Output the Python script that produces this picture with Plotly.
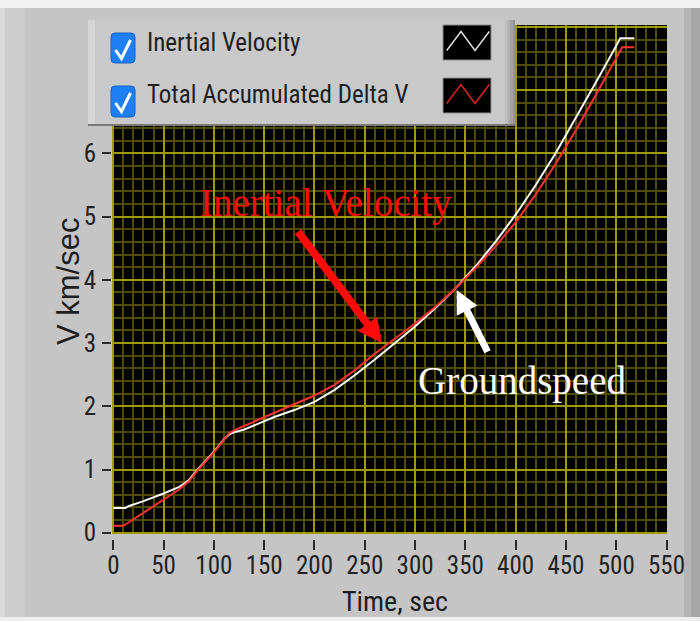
import plotly.graph_objects as go

# ---- data: velocity profiles (km/s) against mission time (s) ----
time_inertial = [0, 12, 15, 30, 50, 65, 75, 85, 100, 110, 115, 120, 130, 140, 160, 180, 200,
                 220, 240, 260, 280, 300, 320, 340, 360, 380, 400, 420, 440, 460, 480, 500,
                 504, 518]
vel_inertial = [0.39, 0.39, 0.42, 0.50, 0.62, 0.72, 0.83, 1.02, 1.28, 1.48, 1.55, 1.59, 1.63,
                1.70, 1.83, 1.94, 2.07, 2.26, 2.49, 2.74, 3.00, 3.26, 3.55, 3.86, 4.21, 4.60,
                5.03, 5.50, 6.01, 6.56, 7.13, 7.70, 7.82, 7.82]

time_delta_v = [0, 10, 14, 30, 50, 65, 75, 85, 100, 110, 115, 120, 140, 160, 180, 200, 220,
                240, 260, 280, 300, 320, 340, 360, 380, 400, 420, 440, 460, 480, 500, 506, 518]
total_delta_v = [0.11, 0.11, 0.15, 0.32, 0.52, 0.68, 0.81, 1.01, 1.27, 1.47, 1.57, 1.62, 1.76,
                 1.90, 2.03, 2.17, 2.34, 2.57, 2.83, 3.07, 3.31, 3.57, 3.86, 4.18, 4.53, 4.91,
                 5.35, 5.84, 6.37, 6.93, 7.50, 7.68, 7.68]

series_names = ["Inertial Velocity", "Total Accumulated Delta V"]
x_ticks = list(range(0, 551, 50))
y_ticks = list(range(0, 9))
y_tick_text = [str(v) if v <= 6 else "" for v in y_ticks]

# ---- geometry helpers (pixels -> paper fractions) ----
W, H = 700, 621
ML, MR, MT, MB = 112, 33, 25, 82          # paper box: x 112..667, y 25..539
PW, PH = W - ML - MR, H - MT - MB
PLOT_BOTTOM = 534                          # bottom edge of black plot area


def px(x):
    return (x - ML) / PW


def py(y):
    return (H - MB - y) / PH


NARROW = "Roboto Condensed, Liberation Sans, Arial, sans-serif"
SERIF = "Liberation Serif, Times New Roman, serif"
WHITE_LINE = "#f6f6f6"
RED_LINE = "#ff3232"
PANEL = "#c5c5c5"
TEXT = "#1e1e1e"

fig = go.Figure()
fig.add_trace(go.Scatter(x=time_inertial, y=vel_inertial, mode="lines",
                         name=series_names[0], line=dict(color=WHITE_LINE, width=2)))
fig.add_trace(go.Scatter(x=time_delta_v, y=total_delta_v, mode="lines",
                         name=series_names[1], line=dict(color=RED_LINE, width=2)))
# the tick-mark axis sits a few pixels under the plot and needs a trace to be drawn
fig.add_trace(go.Scatter(x=time_inertial, y=vel_inertial, mode="lines", xaxis="x2",
                         opacity=0, hoverinfo="skip", line=dict(width=0)))

grid_major = "#9e9a00"
grid_minor = "#4f4b00"

fig.update_layout(
    width=W, height=H,
    margin=dict(l=ML, r=MR, t=MT, b=MB, pad=0),
    paper_bgcolor=PANEL,
    plot_bgcolor="#000000",
    showlegend=False,
    xaxis=dict(
        range=[-1.3, 550.5], tickvals=x_ticks, showticklabels=False, ticks="",
        showgrid=True, gridcolor=grid_major, gridwidth=1.6, zeroline=False,
        showline=False, fixedrange=True,
        minor=dict(dtick=10, tick0=0, showgrid=True, gridcolor=grid_minor, gridwidth=1.5),
    ),
    xaxis2=dict(
        overlaying="x", anchor="free", position=0, side="bottom",
        range=[-1.3, 550.5], tickvals=x_ticks, showgrid=False, zeroline=False,
        ticks="outside", ticklen=10, tickwidth=2, tickcolor="#2a2a2a", fixedrange=True,
        tickfont=dict(family=NARROW, size=25, color="#222222"), ticklabelstandoff=-6,
    ),
    yaxis=dict(
        domain=[(H - MB - PLOT_BOTTOM) / PH, 1],
        range=[-0.02, 8.03], tickvals=y_ticks, ticktext=y_tick_text,
        showgrid=True, gridcolor=grid_major, gridwidth=1.6, zeroline=False,
        ticks="outside", ticklen=9, tickwidth=2, tickcolor="#2a2a2a",
        tickfont=dict(family=NARROW, size=25, color="#222222"), ticklabelstandoff=1,
        minor=dict(dtick=0.2, tick0=0, showgrid=True, gridcolor=grid_minor, gridwidth=1.5),
        fixedrange=True,
    ),
)

shapes = []
# panel frame: white top band, lighter left strip, darker right bevel, white bottom edge
shapes.append(dict(type="rect", xref="paper", yref="paper", layer="below",
                   x0=px(0), x1=px(W), y0=py(0), y1=py(8), fillcolor="#f2f2f2", line_width=0))
shapes.append(dict(type="rect", xref="paper", yref="paper", layer="below",
                   x0=px(0), x1=px(5), y0=py(8), y1=py(H), fillcolor="#d9d9d9", line_width=0))
shapes.append(dict(type="rect", xref="paper", yref="paper", layer="below",
                   x0=px(5), x1=px(25), y0=py(8), y1=py(617), fillcolor="#cdcdcd", line_width=0))
shapes.append(dict(type="rect", xref="paper", yref="paper", layer="below",
                   x0=px(684), x1=px(691), y0=py(8), y1=py(617), fillcolor="#b4b4b4", line_width=0))
shapes.append(dict(type="rect", xref="paper", yref="paper", layer="below",
                   x0=px(691), x1=px(W), y0=py(8), y1=py(617), fillcolor="#a6a6a6", line_width=0))
shapes.append(dict(type="rect", xref="paper", yref="paper", layer="below",
                   x0=px(0), x1=px(W), y0=py(617), y1=py(H), fillcolor="#eeeeee", line_width=0))

# legend panel drawn over the upper-left of the plot
LX0, LX1, LY0, LY1 = 88, 515, 20, 124
shapes.append(dict(type="rect", xref="paper", yref="paper", layer="above",
                   x0=px(LX0), x1=px(LX1), y0=py(LY1 + 2), y1=py(LY0), fillcolor="#7a7a7a",
                   line_width=0))
shapes.append(dict(type="rect", xref="paper", yref="paper", layer="above",
                   x0=px(LX0), x1=px(LX1), y0=py(LY1), y1=py(LY0), fillcolor="#c9c9c9",
                   line_width=0))
shapes.append(dict(type="rect", xref="paper", yref="paper", layer="above",
                   x0=px(LX0), x1=px(LX0 + 7), y0=py(LY1), y1=py(LY0), fillcolor="#d6d6d6",
                   line_width=0))
for i, col in enumerate(["#bdbdbd", "#b0b0b0", "#a2a2a2", "#939393"]):
    shapes.append(dict(type="rect", xref="paper", yref="paper", layer="above",
                       x0=px(LX1 - 10 + i * 2.5), x1=px(LX1 - 7.5 + i * 2.5),
                       y0=py(LY1), y1=py(LY0), fillcolor=col, line_width=0))


def rounded_box(x0, y0, x1, y1, r):
    return (f"M {px(x0 + r)},{py(y0)} L {px(x1 - r)},{py(y0)} "
            f"Q {px(x1)},{py(y0)} {px(x1)},{py(y0 + r)} L {px(x1)},{py(y1 - r)} "
            f"Q {px(x1)},{py(y1)} {px(x1 - r)},{py(y1)} L {px(x0 + r)},{py(y1)} "
            f"Q {px(x0)},{py(y1)} {px(x0)},{py(y1 - r)} L {px(x0)},{py(y0 + r)} "
            f"Q {px(x0)},{py(y0)} {px(x0 + r)},{py(y0)} Z")


rows = [(33, 63), (86, 117)]
swatch_colors = ["#e4e4e4", "#e02424"]
for (ty, by), scol in zip(rows, swatch_colors):
    # checkbox
    shapes.append(dict(type="path", xref="paper", yref="paper", layer="above",
                       path=rounded_box(111, ty, 135, by, 4), fillcolor="#1d7ff3",
                       line=dict(color="#1565c8", width=1)))
    cy = ty + 17
    shapes.append(dict(type="path", xref="paper", yref="paper", layer="above",
                       path=(f"M {px(115.5)},{py(cy)} L {px(121.5)},{py(cy + 8.5)} "
                             f"L {px(130.5)},{py(cy - 10)}"),
                       line=dict(color="#ffffff", width=3)))
    # line-style swatch
    sy0 = ty - 8
    shapes.append(dict(type="rect", xref="paper", yref="paper", layer="above",
                       x0=px(443), x1=px(491), y0=py(sy0 + 35), y1=py(sy0),
                       fillcolor="#000000", line=dict(color="#8c8c8c", width=1)))
    zy_lo, zy_hi = sy0 + 25.5, sy0 + 6.5
    shapes.append(dict(type="path", xref="paper", yref="paper", layer="above",
                       path=(f"M {px(446.7)},{py(zy_lo)} L {px(461)},{py(zy_hi)} "
                             f"L {px(475)},{py(zy_lo)} L {px(489.3)},{py(zy_hi)}"),
                       line=dict(color=scol, width=1.4)))

fig.update_layout(shapes=shapes)

annotations = [
    # legend labels
    dict(text=series_names[0], xref="paper", yref="paper", x=px(145), y=py(42.5),
         xanchor="left", yanchor="middle", showarrow=False,
         font=dict(family=NARROW, size=25, color=TEXT)),
    dict(text=series_names[1], xref="paper", yref="paper", x=px(145), y=py(95),
         xanchor="left", yanchor="middle", showarrow=False,
         font=dict(family=NARROW, size=25, color=TEXT)),
    # axis titles
    dict(text="Time, sec", xref="paper", yref="paper", x=px(395), y=py(601),
         xanchor="center", yanchor="middle", showarrow=False,
         font=dict(family=NARROW, size=28, color=TEXT)),
    dict(text="V km/sec", xref="paper", yref="paper", x=px(68), y=py(282),
         xanchor="center", yanchor="middle", showarrow=False, textangle=-90,
         font=dict(family="Liberation Sans, Arial, sans-serif", size=31, color=TEXT)),
    # callouts on the curves
    dict(text="Inertial Velocity", xref="paper", yref="paper", x=px(325.5), y=py(203),
         xanchor="center", yanchor="middle", showarrow=False,
         font=dict(family=SERIF, size=39, color="#ff0a0a")),
    dict(text="Groundspeed", xref="paper", yref="paper", x=px(522), y=py(381),
         xanchor="center", yanchor="middle", showarrow=False,
         font=dict(family=SERIF, size=39, color="#ffffff")),
    dict(text="", x=267, y=3.0, xref="x", yref="y", showarrow=True,
         ax=-85, ay=-113, arrowhead=2, arrowsize=0.6, arrowwidth=8,
         arrowcolor="#ff0a0a", standoff=0),
    dict(text="", x=341.4, y=3.84, xref="x", yref="y", showarrow=True,
         ax=31.6, ay=63.3, arrowhead=2, arrowsize=0.66, arrowwidth=7,
         arrowcolor="#ffffff", standoff=0),
]
fig.update_layout(annotations=annotations)

fig.write_html("out.html")
